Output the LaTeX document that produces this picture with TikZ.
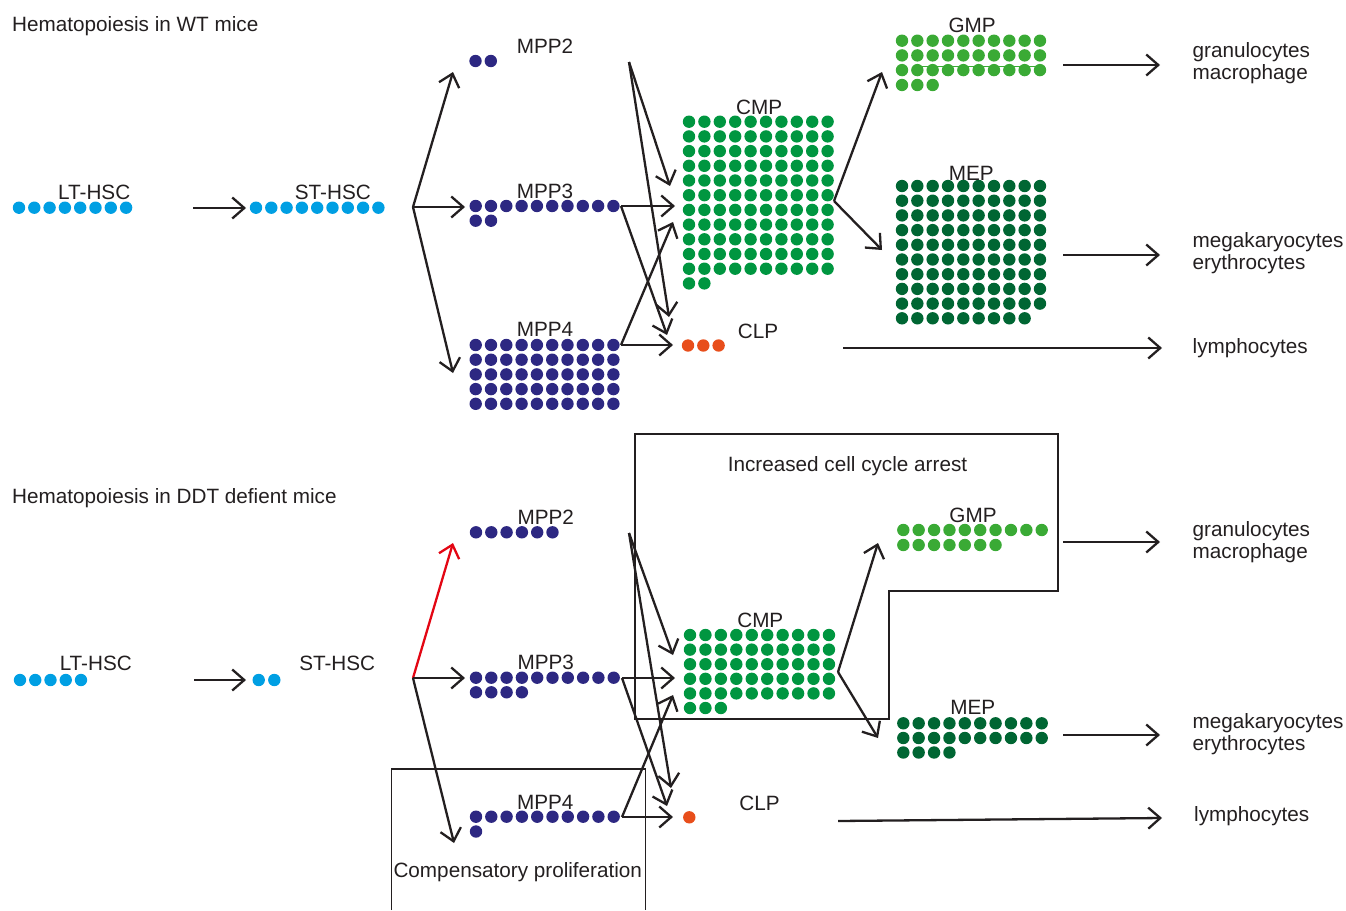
\documentclass[tikz,border=0pt]{standalone}
\usepackage{fontspec}
\setmainfont{Liberation Sans}
\usetikzlibrary{arrows.meta}
\definecolor{hsc}{RGB}{0,159,227}
\definecolor{mpp}{RGB}{45,40,130}
\definecolor{cmpc}{RGB}{0,150,64}
\definecolor{gmpc}{RGB}{58,170,53}
\definecolor{mepc}{RGB}{0,102,51}
\definecolor{clpc}{RGB}{232,78,27}
\definecolor{redarr}{RGB}{227,6,19}
\definecolor{txt}{RGB}{35,31,32}
\newcommand\cellrow[5]{\foreach \ci in {1,...,#4}{\fill[#1] ({#2+(\ci-1)*#5},#3) circle (6.2pt);}}
\newcommand\cellgrid[7]{\foreach \rj in {1,...,#5}{\foreach \ci in {1,...,#4}{\fill[#1] ({#2+(\ci-1)*#6},{#3+(\rj-1)*#7}) circle (6.2pt);}}}
\begin{document}
\begin{tikzpicture}[x=1pt,y=-1pt,
  arr/.style={line width=2.3pt, draw=txt, -{Straight Barb[length=12pt,width=21pt]}},
  redar/.style={arr, draw=redarr},
  lab/.style={anchor=base, inner sep=0pt, font=\fontsize{20.7}{24}\selectfont, text=txt},
  labl/.style={lab, anchor=base west},
  frame/.style={draw=txt, line width=1.3pt}]
\useasboundingbox (0,0) rectangle (1346,910);
% ---------------- top panel ----------------
\node[labl] (t1) at (12,31) {Hematopoiesis in WT mice};
\cellrow{hsc}{19}{207.7}{8}{15.3}
\cellrow{hsc}{256}{207.7}{9}{15.3}
\cellrow{mpp}{475.5}{61}{2}{15.3}
\cellrow{mpp}{475.7}{206}{10}{15.3}
\cellrow{mpp}{475.7}{220.7}{2}{15.3}
\cellgrid{mpp}{475.7}{345}{10}{5}{15.3}{14.7}
\cellrow{clpc}{688}{345.5}{3}{15.3}
\cellgrid{cmpc}{689}{121.7}{10}{11}{15.4}{14.7}
\cellrow{cmpc}{689}{283.4}{2}{15.4}
\cellgrid{gmpc}{902}{40.7}{10}{3}{15.33}{14.7}
\cellrow{gmpc}{902}{85}{3}{15.33}
\draw[gmpc, line width=1pt] (918,66) -- (1045,66);
\cellgrid{mepc}{902}{186}{10}{9}{15.33}{14.7}
\cellrow{mepc}{902}{318.3}{9}{15.33}

\node[lab] (lt1) at (94.2,199.3) {LT-HSC};
\node[lab] (st1) at (332.8,199.3) {ST-HSC};
\node[lab] (p21) at (545,53.3) {MPP2};
\node[lab] (p31) at (545,198.4) {MPP3};
\node[lab] (p41) at (545,336.7) {MPP4};
\node[lab] (clp1) at (758,338) {CLP};
\node[lab] (cmp1) at (759.2,114) {CMP};
\node[lab] (gmp1) at (972.2,32.7) {GMP};
\node[lab] (mep1) at (971.3,180) {MEP};
\node[labl] (gr1) at (1192.5,57.3) {granulocytes};
\node[labl] (ma1) at (1192.5,79) {macrophage};
\node[labl] (mk1) at (1192.5,247.7) {megakaryocytes};
\node[labl] (er1) at (1192.5,269.7) {erythrocytes};
\node[labl] (ly1) at (1192.5,353.3) {lymphocytes};

\coordinate (a1s) at (193,208); \coordinate (a1e) at (246,208);
\coordinate (b1) at (413,207);
\coordinate (m2in1) at (453,72); \coordinate (m3in1) at (465,207); \coordinate (m4in1) at (453,373);
\coordinate (m2o1) at (629,62); \coordinate (m3o1) at (621,206); \coordinate (m4o1) at (621,345);
\coordinate (cmpA1) at (670,186); \coordinate (cmpB1) at (675,206); \coordinate (cmpC1) at (673,222);
\coordinate (clpA1) at (669,317); \coordinate (clpB1) at (667,335); \coordinate (clpC1) at (673,345);
\coordinate (co1) at (834,201); \coordinate (gin1) at (882,72); \coordinate (min1) at (882,250);
\coordinate (g1s) at (1063,65); \coordinate (g1e) at (1160,65);
\coordinate (e1s) at (1063,255); \coordinate (e1e) at (1160,255);
\coordinate (l1s) at (843,348); \coordinate (l1e) at (1162,348);

\draw[arr] (a1s) -- (a1e);
\draw[arr] (b1) -- (m2in1);
\draw[arr] (b1) -- (m3in1);
\draw[arr] (b1) -- (m4in1);
\draw[arr] (m2o1) -- (cmpA1);
\draw[arr] (m2o1) -- (clpA1);
\draw[arr] (m3o1) -- (cmpB1);
\draw[arr] (m3o1) -- (clpB1);
\draw[arr] (m4o1) -- (cmpC1);
\draw[arr] (m4o1) -- (clpC1);
\draw[arr] (co1) -- (gin1);
\draw[arr] (co1) -- (min1);
\draw[arr] (g1s) -- (g1e);
\draw[arr] (e1s) -- (e1e);
\draw[arr] (l1s) -- (l1e);

% ---------------- bottom panel ----------------
\node[labl] (t2) at (12,503) {Hematopoiesis in DDT defient mice};
\draw[frame] (635,434) -- (1058,434) -- (1058,591) -- (889,591) -- (889,719) -- (635,719) -- cycle;
\draw[frame] (391.7,910) -- (391.7,769) -- (645.7,769) -- (645.7,910);
\node[lab] (inc) at (847.5,471.7) {Increased cell cycle arrest};
\node[lab] (comp) at (517.8,877.3) {Compensatory proliferation};

\cellrow{hsc}{20}{680}{5}{15.25}
\cellrow{hsc}{258.7}{680}{2}{15.6}
\cellrow{mpp}{476}{532.3}{6}{15.3}
\cellrow{mpp}{476}{677.7}{10}{15.3}
\cellrow{mpp}{476}{692.3}{4}{15.3}
\cellrow{mpp}{476}{816.7}{10}{15.3}
\cellrow{mpp}{476}{831.5}{1}{15.3}
\cellrow{clpc}{689.3}{817.3}{1}{15}
\cellgrid{cmpc}{690}{635}{10}{5}{15.44}{14.6}
\cellrow{cmpc}{690}{708}{3}{15.44}
\cellrow{gmpc}{903.3}{530}{10}{15.38}
\cellrow{gmpc}{903.3}{545}{7}{15.38}
\cellrow{mepc}{903.3}{723.3}{10}{15.38}
\cellrow{mepc}{903.3}{738}{10}{15.38}
\cellrow{mepc}{903.3}{752.5}{4}{15.38}

\node[lab] (lt2) at (95.8,670.7) {LT-HSC};
\node[lab] (st2) at (337.2,670.7) {ST-HSC};
\node[lab] (p22) at (545.7,524) {MPP2};
\node[lab] (p32) at (545.7,669.3) {MPP3};
\node[lab] (p42) at (545.3,809.3) {MPP4};
\node[lab] (clp2) at (759.5,810) {CLP};
\node[lab] (cmp2) at (760.3,627.3) {CMP};
\node[lab] (gmp2) at (973,522.3) {GMP};
\node[lab] (mep2) at (972.8,714.3) {MEP};
\node[labl] (gr2) at (1192.5,536.7) {granulocytes};
\node[labl] (ma2) at (1192.5,558.3) {macrophage};
\node[labl] (mk2) at (1192.5,728.3) {megakaryocytes};
\node[labl] (er2) at (1192.5,750.3) {erythrocytes};
\node[labl] (ly2) at (1194,821.7) {lymphocytes};

\coordinate (a2s) at (194,680); \coordinate (a2e) at (246,680);
\coordinate (b2) at (413,678);
\coordinate (m2in2) at (453,543); \coordinate (m3in2) at (465,678); \coordinate (m4in2) at (454,843);
\coordinate (m2o2) at (629,533); \coordinate (m3o2) at (622,678); \coordinate (m4o2) at (622,817);
\coordinate (cmpA2) at (673,655); \coordinate (cmpB2) at (675,678); \coordinate (cmpC2) at (673,695);
\coordinate (clpA2) at (671,788); \coordinate (clpB2) at (667,806); \coordinate (clpC2) at (673,817);
\coordinate (co2) at (838,672); \coordinate (gin2) at (878,543); \coordinate (min2) at (878,738);
\coordinate (g2s) at (1063,542); \coordinate (g2e) at (1160,542);
\coordinate (e2s) at (1063,735); \coordinate (e2e) at (1160,735);
\coordinate (l2s) at (838,821); \coordinate (l2e) at (1162,818);

\draw[arr] (a2s) -- (a2e);
\draw[redar] (b2) -- (m2in2);
\draw[arr] (b2) -- (m3in2);
\draw[arr] (b2) -- (m4in2);
\draw[arr] (m2o2) -- (cmpA2);
\draw[arr] (m2o2) -- (clpA2);
\draw[arr] (m3o2) -- (cmpB2);
\draw[arr] (m3o2) -- (clpB2);
\draw[arr] (m4o2) -- (cmpC2);
\draw[arr] (m4o2) -- (clpC2);
\draw[arr] (co2) -- (gin2);
\draw[arr] (co2) -- (min2);
\draw[arr] (g2s) -- (g2e);
\draw[arr] (e2s) -- (e2e);
\draw[arr] (l2s) -- (l2e);
\end{tikzpicture}
\end{document}
